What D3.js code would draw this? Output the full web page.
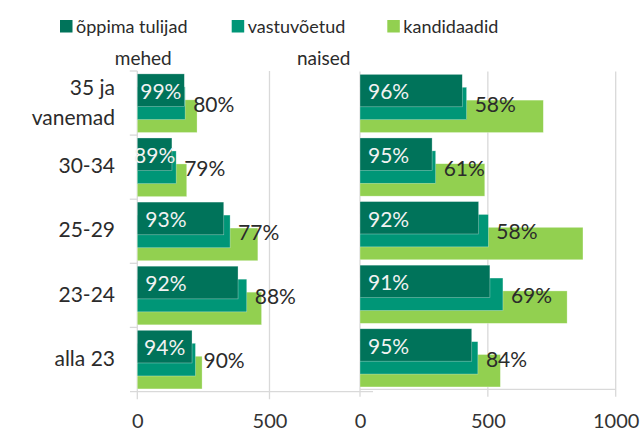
<!DOCTYPE html>
<html><head><meta charset="utf-8">
<script src="https://cdn.jsdelivr.net/npm/d3@7"></script>
<style>
body{margin:0;background:#fff}
svg{display:block}
text{font-family:Lato,"Open Sans",sans-serif}
</style>
</head><body>
<svg id="c" width="643" height="433"></svg>
<script>
// ---- data ----
const categories = ["35 ja vanemad", "30-34", "25-29", "23-24", "alla 23"];
const seriesNames = ["õppima tulijad", "vastuvõetud", "kandidaadid"];
const panelTitles = ["mehed", "naised"];

const menEnrolled   = [178, 131, 327, 381, 207];
const menAdmitted   = [181, 147, 351, 414, 220];
const menApplicants = [226, 187, 456, 470, 245];
const menEnrollPct  = ["99%", "89%", "93%", "92%", "94%"];
const menAdmitPct   = ["80%", "79%", "77%", "88%", "90%"];

const womenEnrolled   = [400, 282, 464, 508, 437];
const womenAdmitted   = [417, 296, 502, 559, 461];
const womenApplicants = [717, 488, 872, 810, 549];
const womenEnrollPct  = ["96%", "95%", "92%", "91%", "95%"];
const womenAdmitPct   = ["58%", "61%", "58%", "69%", "84%"];

const menTicks = [0, 500];
const womenTicks = [0, 500, 1000];

// ---- style ----
const colors = ["#00735a", "#009677", "#92d050"];
const gridColor = "#d9d9d9";
const textColor = "#2b2b2b";
const FS = 21;

const svg = d3.select("#c");

// legend
const legendX = [60, 231.7, 387.3];
const lg = svg.append("g");
seriesNames.forEach((s, i) => {
  lg.append("rect").attr("x", legendX[i]).attr("y", 20).attr("width", 12.5).attr("height", 12.5).attr("fill", colors[i]);
  lg.append("text").attr("x", legendX[i] + 16).attr("y", 32.5).attr("font-size", 18).attr("fill", textColor).text(s);
});

function panel(opt) {
  const x = d3.scaleLinear().domain(opt.domain).range(opt.range);
  const y = d3.scaleBand().domain(categories).range(opt.yRange).padding(0);
  const bw = y.bandwidth();
  const sub = d3.scalePoint().domain(seriesNames).range([bw * 0.045, bw * 0.45]);
  const barH = bw * 0.51;
  const g = svg.append("g");
  const top = opt.yRange[0], axisY = opt.axisY;

  g.selectAll("line.grid").data(opt.ticks).join("line")
    .attr("x1", d => x(d)).attr("x2", d => x(d))
    .attr("y1", top).attr("y2", axisY + 7.5)
    .attr("stroke", gridColor).attr("stroke-width", 1.3);
  g.append("line").attr("x1", opt.axisX1).attr("x2", opt.axisX2)
    .attr("y1", axisY).attr("y2", axisY).attr("stroke", gridColor).attr("stroke-width", 1.3);
  if (opt.catTicks) {
    g.selectAll("line.ct").data(categories).join("line")
      .attr("x1", x(0) - 7.5).attr("x2", x(0))
      .attr("y1", d => y(d)).attr("y2", d => y(d))
      .attr("stroke", gridColor).attr("stroke-width", 1.3);
  }

  const series = [opt.enrolled, opt.admitted, opt.applicants];
  for (let si = 2; si >= 0; si--) {
    g.selectAll(null).data(categories).join("rect")
      .attr("x", x(0))
      .attr("y", d => y(d) + sub(seriesNames[si]))
      .attr("width", (d, i) => x(series[si][i]) - x(0))
      .attr("height", barH)
      .attr("fill", colors[si])
      .attr("stroke", "#ffffff").attr("stroke-width", 0.6).attr("stroke-opacity", 0.5);
  }

  g.selectAll(null).data(categories).join("text")
    .attr("font-size", FS).attr("fill", "#f2f2f2")
    .attr("y", d => y(d) + sub(seriesNames[0]) + barH / 2 + 8.8)
    .text((d, i) => opt.enrollPct[i])
    .each(function (d, i) {
      const tw = this.getComputedTextLength();
      const w = x(opt.enrolled[i]) - x(0);
      if (w >= tw + 16) d3.select(this).attr("x", x(0) + 8).attr("text-anchor", "start");
      else d3.select(this).attr("x", x(0) + w / 2).attr("text-anchor", "middle");
    });

  g.selectAll(null).data(categories).join("text")
    .attr("font-size", FS).attr("fill", textColor)
    .attr("x", (d, i) => x(opt.admitted[i]) + 8)
    .attr("y", d => y(d) + sub(seriesNames[1]) + barH / 2 + 8.8)
    .text((d, i) => opt.admitPct[i]);

  const ax = d3.axisBottom(x).tickValues(opt.ticks).tickSize(0).tickPadding(0).tickFormat(d3.format("d"));
  const ag = g.append("g").attr("transform", `translate(0,${axisY})`).call(ax);
  ag.select(".domain").remove();
  ag.selectAll("text").attr("dy", null).attr("y", 428 - axisY)
    .attr("font-size", 20).attr("fill", "#333").attr("font-family", 'Lato,"Open Sans",sans-serif');

  g.append("text").attr("x", opt.titleX).attr("y", 65).attr("text-anchor", "middle")
    .attr("font-size", 19).attr("fill", textColor).text(opt.title);

  if (opt.catLabels) {
    const cl = g.selectAll(null).data(categories).join("text")
      .attr("text-anchor", "end").attr("font-size", FS).attr("fill", textColor);
    cl.each(function (d) {
      const words = d.split(" ");
      const c = y(d) + bw / 2;
      const t = d3.select(this);
      if (d.length > 8) {
        t.append("tspan").attr("x", 115).attr("y", c - 8).text(words.slice(0, 2).join(" "));
        t.append("tspan").attr("x", 115).attr("y", c + 22).text(words.slice(2).join(" "));
      } else {
        t.append("tspan").attr("x", 115).attr("y", c + 6.2).text(d);
      }
    });
  }
}

panel({
  domain: [0, 500], range: [137.3, 269.5], yRange: [71, 391.5], axisY: 391.7,
  axisX1: 130, axisX2: 373, ticks: menTicks, catTicks: true, catLabels: true,
  enrolled: menEnrolled, admitted: menAdmitted, applicants: menApplicants,
  enrollPct: menEnrollPct, admitPct: menAdmitPct, title: panelTitles[0], titleX: 143.3
});
panel({
  domain: [0, 1000], range: [360, 615.7], yRange: [71.5, 389.5], axisY: 389.3,
  axisX1: 360, axisX2: 616, ticks: womenTicks, catTicks: false, catLabels: false,
  enrolled: womenEnrolled, admitted: womenAdmitted, applicants: womenApplicants,
  enrollPct: womenEnrollPct, admitPct: womenAdmitPct, title: panelTitles[1], titleX: 323.7
});
</script>
</body></html>
